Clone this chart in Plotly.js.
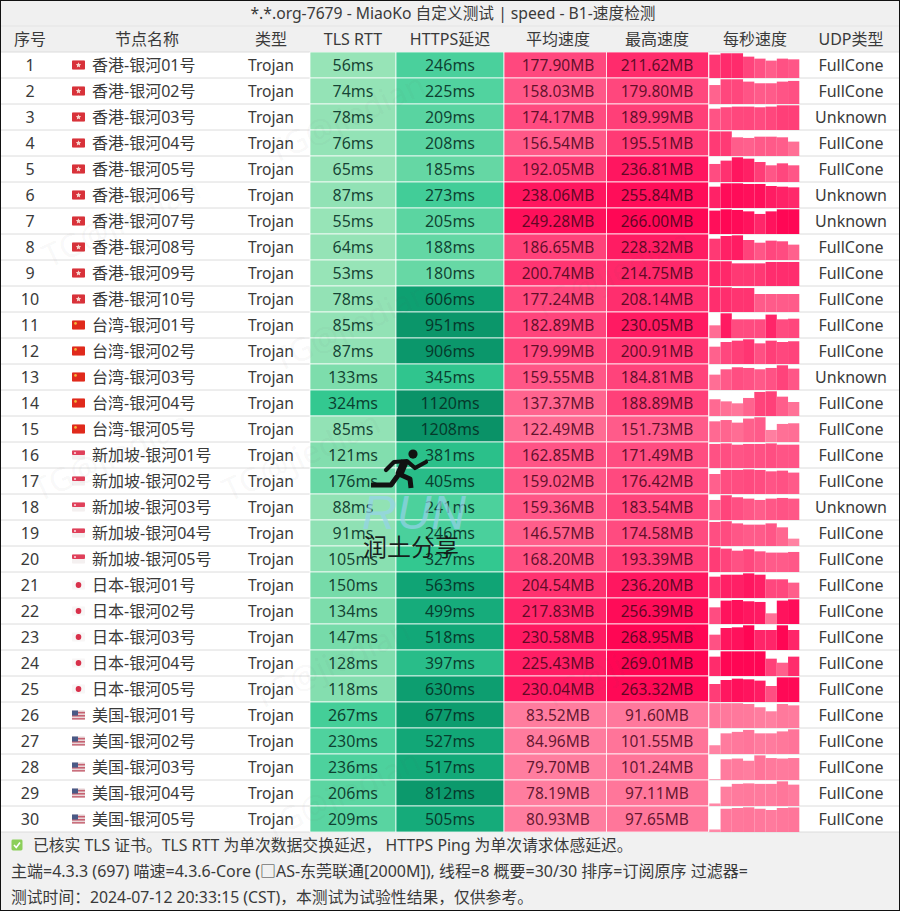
<!DOCTYPE html>
<html><head><meta charset="utf-8">
<script src="https://cdn.plot.ly/plotly-3.0.1.min.js"></script>
<style>html,body{margin:0;padding:0;background:#fff}</style></head>
<body><div id="chart" style="width:900px;height:911px"></div>
<script>
const titleText = '*.*.org-7679 - MiaoKo 自定义测试 | speed - B1-速度检测';
const headers = ['序号','节点名称','类型','TLS RTT','HTTPS延迟','平均速度','最高速度','每秒速度','UDP类型'];
const rowNumbers = Array.from({length:30},(_,i)=>i+1);
const nodeNames = ['香港-银河01号','香港-银河02号','香港-银河03号','香港-银河04号','香港-银河05号','香港-银河06号','香港-银河07号','香港-银河08号','香港-银河09号','香港-银河10号','台湾-银河01号','台湾-银河02号','台湾-银河03号','台湾-银河04号','台湾-银河05号','新加坡-银河01号','新加坡-银河02号','新加坡-银河03号','新加坡-银河04号','新加坡-银河05号','日本-银河01号','日本-银河02号','日本-银河03号','日本-银河04号','日本-银河05号','美国-银河01号','美国-银河02号','美国-银河03号','美国-银河04号','美国-银河05号'];
const flagCodes = ['hk','hk','hk','hk','hk','hk','hk','hk','hk','hk','tw','tw','tw','tw','tw','sg','sg','sg','sg','sg','jp','jp','jp','jp','jp','us','us','us','us','us'];
const protocol = Array(30).fill('Trojan');
const tlsRtt = [56,74,78,76,65,87,55,64,53,78,85,87,133,324,85,121,176,88,91,105,150,134,147,128,118,267,230,236,206,209];
const httpsDelay = [246,225,209,208,185,273,205,188,180,606,951,906,345,1120,1208,381,405,241,246,327,563,499,518,397,630,677,527,517,812,505];
const avgSpeed = [177.90,158.03,174.17,156.54,192.05,238.06,249.28,186.65,200.74,177.24,182.89,179.99,159.55,137.37,122.49,162.85,159.02,159.36,146.57,168.20,204.54,217.83,230.58,225.43,230.04,83.52,84.96,79.70,78.19,80.93];
const maxSpeed = [211.62,179.80,189.99,195.51,236.81,255.84,266.00,228.32,214.75,208.14,230.05,200.91,184.81,188.89,151.73,171.49,176.42,183.54,174.58,193.39,236.20,256.39,268.95,269.01,263.32,91.60,101.55,101.24,97.11,97.65];
const udpType = ['FullCone','FullCone','Unknown','FullCone','FullCone','Unknown','Unknown','FullCone','FullCone','FullCone','FullCone','FullCone','Unknown','FullCone','FullCone','FullCone','FullCone','Unknown','FullCone','FullCone','FullCone','FullCone','FullCone','FullCone','FullCone','FullCone','FullCone','FullCone','FullCone','FullCone'];
const perSecond = [
[200,212,212,183,166,149,166,160],[138,180,180,163,151,151,163,168],[164,175,180,180,175,180,190,190],[195,195,148,143,153,153,148,114],[173,205,237,224,192,160,179,160],
[221,256,256,249,249,228,221,214],[252,266,259,244,216,244,266,266],[197,222,228,185,160,179,173,142],[215,215,197,197,197,209,209,209],[208,208,202,202,152,152,152,152],
[118,230,174,174,174,218,174,180],[141,179,190,201,168,190,179,185],[115,155,170,165,155,165,185,160],[128,112,97,138,184,189,148,107],[127,135,119,144,152,74,111,115],
[167,171,162,167,167,171,162,162],[143,172,172,176,172,162,167,153],[149,184,169,159,149,159,164,159],[170,175,160,151,151,160,132,52],[193,183,167,178,162,152,152,157],
[204,223,223,236,223,179,179,147],[173,243,249,236,229,111,243,256],[167,240,247,269,218,218,269,218],[211,269,269,269,269,189,145,211],[192,235,249,242,228,171,263,263],
[92,92,92,89,77,62,89,84],[36,85,91,99,85,85,93,101.55],[3,85,88,79,101,90,88,90],[10,76,87,89,87,87,97,84],[10,92,95,97.65,92,87,95,97]];
const footerLines = ['已核实 TLS 证书。TLS RTT 为单次数据交换延迟， HTTPS Ping 为单次请求体感延迟。','主端=4.3.3 (697) 喵速=4.3.6-Core (□AS-东莞联通[2000M]), 线程=8 概要=30/30 排序=订阅原序 过滤器=','测试时间：2024-07-12 20:33:15 (CST)，本测试为试验性结果，仅供参考。'];

// layout geometry (x axis runs in pixels, y axis in row units)
const FONT = '"Noto Sans","Noto Sans CJK SC",sans-serif';
const colCenter = {num:30, type:271, tls:353, https:450, avg:558, max:657, spark:755, udp:851};
const edges = {tls:[310,396], https:[396,504], avg:[504,606.5], max:[606.5,708.5]};
const sparkLeft = 709.3, sparkStep = 11.25, sparkFull = 0.95;
const textNudge = 0.07;
const rows = rowNumbers;

const delayScale = [[0,'#a0e8bb'],[85/1300,'#92e2b5'],[150/1300,'#76dba9'],[230/1300,'#4fd29e'],[324/1300,'#33c890'],[405/1300,'#28bc88'],[520/1300,'#12a878'],[650/1300,'#0c9c6e'],[1,'#0a9066']];
const speedScale = [[0,'#ff8aa8'],[80/280,'#ff7d9f'],[130/280,'#ff6891'],[160/280,'#ff5687'],[190/280,'#ff3f78'],[230/280,'#ff1a62'],[1,'#ff0050']];

function cellBars(vals, edge, scale, cmax){
  return {type:'bar', orientation:'h', y:rows, x:rows.map(()=>edge[1]-edge[0]), base:rows.map(()=>edge[0]), width:1,
    marker:{color:vals, colorscale:scale, cmin:0, cmax:cmax, line:{color:'rgba(255,255,255,0.75)',width:1}}, hoverinfo:'skip', showlegend:false};
}
function textCol(x, y, text, color, size, pos){
  return {type:'scatter', mode:'text', x:y.map(()=>x), y:y.map(v=>v+textNudge), text:text, textposition:pos||'middle center',
    textfont:{family:FONT,size:size||16,color:color||'#3a3a3a'}, hoverinfo:'skip', showlegend:false, cliponaxis:false};
}
const traces = [
  cellBars(tlsRtt, edges.tls, delayScale, 1300),
  cellBars(httpsDelay, edges.https, delayScale, 1300),
  cellBars(avgSpeed, edges.avg, speedScale, 280),
  cellBars(maxSpeed, edges.max, speedScale, 280)
];
// per-second mini bars: each second is one bar, height relative to the row's peak
for(let s=0;s<8;s++){
  const vals = perSecond.map(r=>r[s]);
  traces.push({type:'bar', orientation:'v', x:rows.map(()=>sparkLeft+(s+0.5)*sparkStep), width:sparkStep,
    y:vals.map((v,i)=>-sparkFull*v/maxSpeed[i]), base:rows.map(r=>r+0.5),
    marker:{color:vals, colorscale:speedScale, cmin:0, cmax:280, line:{width:0}}, hoverinfo:'skip', showlegend:false});
}
const darkOnGreen='rgba(5,45,35,0.88)', darkOnPink='rgba(70,5,25,0.85)';
traces.push(
  textCol(colCenter.num, rows, rowNumbers.map(String)),
  textCol(92, rows, nodeNames, '#3a3a3a', 16, 'middle right'),
  textCol(colCenter.type, rows, protocol, '#3a3a3a', 15.6),
  textCol(colCenter.tls, rows, tlsRtt.map(v=>v+'ms'), darkOnGreen),
  textCol(colCenter.https, rows, httpsDelay.map(v=>v+'ms'), darkOnGreen),
  textCol(colCenter.avg, rows, avgSpeed.map(v=>v.toFixed(2)+'MB'), darkOnPink, 15.5),
  textCol(colCenter.max, rows, maxSpeed.map(v=>v.toFixed(2)+'MB'), darkOnPink, 15.5),
  textCol(colCenter.udp, rows, udpType)
);
const headerX=[30,147,271,353,450,558,657,755,851];
traces.push({type:'scatter',mode:'text',x:headerX,y:headers.map(()=>textNudge),text:headers,textposition:'middle center',
  textfont:{family:FONT,size:16,color:'#3a3a3a'},hoverinfo:'skip',showlegend:false,cliponaxis:false});

const shapes = [
  {type:'rect',layer:'below',xref:'paper',yref:'y',x0:0,x1:1,y0:-1.5,y1:0.5,fillcolor:'#f0f0f0',line:{width:0}},
  {type:'rect',layer:'below',xref:'paper',yref:'y',x0:0,x1:1,y0:30.5,y1:33.54,fillcolor:'#f1f1f1',line:{width:0}},
  {type:'line',layer:'below',xref:'paper',yref:'y',x0:0,x1:1,y0:-0.5,y1:-0.5,line:{color:'#e4e4e4',width:1}},
  {type:'rect',layer:'above',xref:'paper',yref:'paper',x0:0,x1:1,y0:0,y1:1,line:{color:'#111',width:2},fillcolor:'rgba(0,0,0,0)'}
];
[0,...rows].forEach(r=>shapes.push({type:'line',layer:'below',xref:'paper',yref:'y',x0:0,x1:1,y0:r+0.5,y1:r+0.5,line:{color:'#dcdcdc',width:1}}));

function svgUri(w,h,body){return 'data:image/svg+xml;charset=utf-8,'+encodeURIComponent('<svg xmlns="http://www.w3.org/2000/svg" width="'+w+'" height="'+h+'" viewBox="0 0 '+w+' '+h+'">'+body+'</svg>');}
const flagArt = {
  hk:'<rect width="26" height="18" rx="2" fill="#d8323a"/><path d="M13 3.5l1.6 3.6 3.9.4-2.9 2.6.8 3.9-3.4-2-3.4 2 .8-3.9-2.9-2.6 3.9-.4z" fill="#f8d8d0"/>',
  tw:'<rect width="26" height="18" rx="2" fill="#e02a1c"/><circle cx="7" cy="6" r="2.6" fill="#f5b93a"/>',
  sg:'<rect width="26" height="18" rx="2" fill="#f4f0f0"/><rect width="26" height="9" rx="2" fill="#e0405a"/><circle cx="6" cy="5" r="2" fill="#fbe0e4"/>',
  jp:'<rect width="26" height="18" rx="2" fill="#f8f6f6"/><circle cx="13" cy="9" r="5.6" fill="#d8304a"/>',
  us:'<rect width="26" height="18" rx="2" fill="#e8d6d8"/><rect y="3" width="26" height="3" fill="#c66070"/><rect y="9" width="26" height="3" fill="#c66070"/><rect y="15" width="26" height="3" fill="#c66070"/><rect width="12" height="10" fill="#4a5a86"/>'
};
const images = rows.map((r,i)=>({source:svgUri(26,18,flagArt[flagCodes[i]]),xref:'x',yref:'y',x:72,y:r,sizex:13,sizey:0.36,xanchor:'left',yanchor:'middle',sizing:'stretch',layer:'above'}));
images.push({source:svgUri(24,24,'<rect x="1" y="1" width="22" height="22" rx="3" fill="#8ccf5a"/><path d="M6 12l4.5 5L18 7" fill="none" stroke="#fff" stroke-width="3.2"/>'),xref:'x',yref:'y',x:11,y:31,sizex:12,sizey:0.46,xanchor:'left',yanchor:'middle',sizing:'stretch',layer:'above'});
const runner = '<circle cx="44" cy="5" r="4.6" fill="#111"/>'+
 '<path d="M17 21 L25 13 L38 12 L46 19 L57 13" fill="none" stroke="#111" stroke-width="4.2" stroke-linejoin="round" stroke-linecap="round"/>'+
 '<path d="M36 12 L30 26" fill="none" stroke="#111" stroke-width="8"/>'+
 '<path d="M30 25 L41 30 L42 39" fill="none" stroke="#111" stroke-width="5" stroke-linejoin="round"/>'+
 '<path d="M30 25 L22 36 L2 36" fill="none" stroke="#111" stroke-width="5" stroke-linejoin="round"/>';
images.push({source:svgUri(60,44,runner),xref:'x',yref:'y',x:369,y:15.77,sizex:60,sizey:44/26,xanchor:'left',yanchor:'top',sizing:'stretch',layer:'above'});

function note(x,y,text,size,color,extra){return Object.assign({xref:'x',yref:'y',x:x,y:y,text:text,showarrow:false,xanchor:'left',yanchor:'middle',font:{family:FONT,size:size,color:color}},extra||{});}
const annotations = [
  note(31,31,footerLines[0],15.8,'#3a3a3a'),
  note(9,32,footerLines[1],16,'#3a3a3a'),
  note(9,33,footerLines[2],15.8,'#3a3a3a'),
  note(414,18.2,'<i>RUN</i>',48,'rgba(150,210,235,0.7)',{xanchor:'center',font:{family:'"Liberation Sans",sans-serif',size:48,color:'rgba(150,210,235,0.7)'}}),
  note(410.5,19.5,'润土分享',24,'rgba(20,20,20,0.95)',{xanchor:'center'})
];
[[345,3],[350,11],[300,16],[330,24],[340,29],[120,7],[110,16],[610,9],[620,24]].forEach(p=>{
  annotations.push(note(p[0],p[1],'TG@jiedian',32,'rgba(90,90,90,0.055)',{xanchor:'center',textangle:-25}));
});

const layout = {
  width:900,height:911,margin:{l:0,r:0,t:0,b:0},paper_bgcolor:'#fff',plot_bgcolor:'#fff',showlegend:false,barmode:'overlay',
  title:{text:titleText,x:453/900,y:1-14/911,xanchor:'center',yanchor:'middle',font:{family:FONT,size:15.7,color:'#3a3a3a'}},
  xaxis:{range:[0,900],visible:false,fixedrange:true},
  yaxis:{range:[33.538,-1.5],visible:false,fixedrange:true},
  shapes:shapes,images:images,annotations:annotations
};
Plotly.newPlot('chart',traces,layout,{displayModeBar:false,staticPlot:true});
</script></body></html>
